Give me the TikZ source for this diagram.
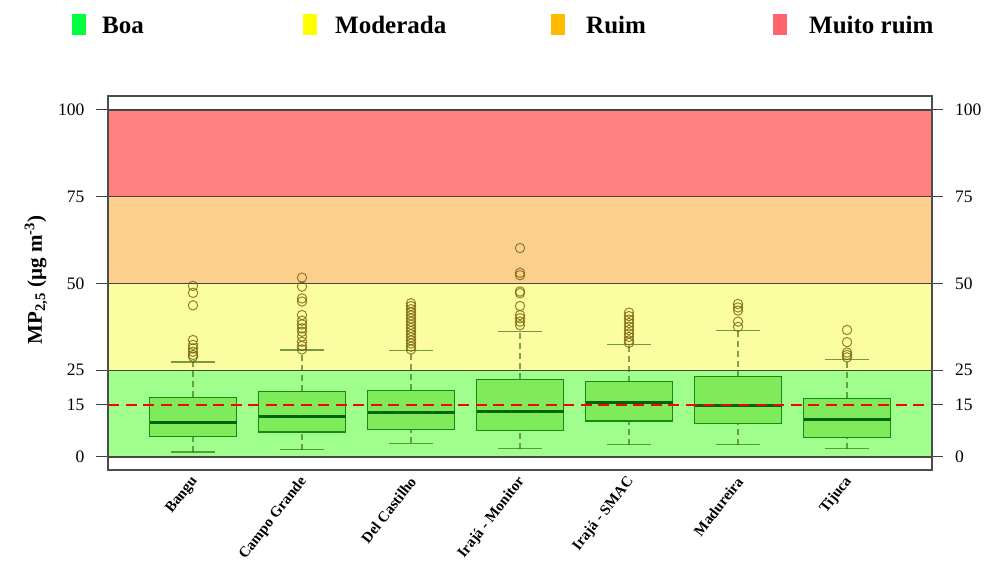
\documentclass[tikz,border=0pt]{standalone}
\usepackage{fontspec}
\setmainfont{Liberation Serif}
\definecolor{bandgreen}{RGB}{160,255,140}
\definecolor{bandyellow}{RGB}{250,253,160}
\definecolor{bandorange}{RGB}{253,207,140}
\definecolor{bandred}{RGB}{255,128,128}
\definecolor{bandgray}{RGB}{70,70,70}
\definecolor{boxfill}{RGB}{128,235,90}
\definecolor{boxedge}{RGB}{20,140,20}
\definecolor{meddark}{RGB}{0,100,0}
\definecolor{whiskc}{RGB}{50,100,20}
\definecolor{outc}{RGB}{120,100,10}
\definecolor{legGreen}{RGB}{0,255,60}
\definecolor{legYellow}{RGB}{255,255,0}
\definecolor{legOrange}{RGB}{255,187,0}
\definecolor{legRed}{RGB}{255,100,110}
\newcommand\myboxplot[8]{%
  \draw[whisk] (#1,#5) -- (#1,#6);
  \draw[whisk] (#1,#2) -- (#1,#3);
  \draw[capst] (#1-22,#6) -- (#1+22,#6);
  \draw[capst] (#1-22,#2) -- (#1+22,#2);
  \draw[boxst] (#1-43.5,#3) rectangle (#1+43.5,#5);
  \draw[med] (#1-43.5,#4) -- (#1+43.5,#4);
  \foreach \o in {#7} \draw[outl] (#1,\o) circle[radius=4.7pt];
  \coordinate (#8) at (#1+2,-6.3);
}
\begin{document}
\begin{tikzpicture}[x=1pt,y=1pt,
  bandln/.style={draw=bandgray, line width=1.1pt},
  boxst/.style={draw=boxedge, fill=boxfill, line width=1.2pt},
  med/.style={draw=meddark, line width=3pt},
  whisk/.style={draw=whiskc, dash pattern=on 6pt off 4pt, line width=1.3pt, opacity=0.6},
  capst/.style={draw=whiskc, line width=1.3pt, opacity=0.65},
  outl/.style={draw=outc, line width=1pt, opacity=0.8},
  tickln/.style={draw=black!75, line width=1pt},
  ticklab/.style={font=\fontsize{17.5}{20}\selectfont, inner sep=0pt},
  refline/.style={draw=red, line width=2.6pt, dash pattern=on 11pt off 6.5pt},
  legsq/.style={minimum width=14pt, minimum height=21pt, inner sep=0pt},
  legtxt/.style={font=\fontsize{25}{28}\selectfont\bfseries, inner sep=0pt, anchor=base west},
  xtxt/.style={font=\fontsize{15}{17}\selectfont\bfseries, inner sep=0pt, anchor=east, rotate=52}]
\useasboundingbox (0,0) rectangle (985,561);
% legend
\node[legsq, fill=legGreen] (sqBoa) at (79,536.5) {};
\node[legtxt] (tBoa) at (102,527.7) {Boa};
\node[legsq, fill=legYellow] (sqMod) at (310,536.5) {};
\node[legtxt] (tMod) at (335,527.7) {Moderada};
\node[legsq, fill=legOrange] (sqRuim) at (558,536.5) {};
\node[legtxt] (tRuim) at (586,527.7) {Ruim};
\node[legsq, fill=legRed] (sqMR) at (780,536.5) {};
\node[legtxt] (tMR) at (809,527.7) {Muito ruim};
% y label
\node[rotate=90, font=\fontsize{21}{24}\selectfont\bfseries] (ylab) at (36,281)
  {MP\textsubscript{2,5} (µg m\textsuperscript{-3})};
\begin{scope}[shift={(0,104)}, y=3.47pt]
  \fill[bandgreen] (108,0) rectangle (932,25);
  \fill[bandyellow] (108,25) rectangle (932,50);
  \fill[bandorange] (108,50) rectangle (932,75);
  \fill[bandred] (108,75) rectangle (932,100);
  \foreach \v in {0,25,50,75,100} \draw[bandln] (108,\v) -- (932,\v);
  % ticks
  \foreach \v in {0,15,25,50,75,100} {
    \draw[tickln] (96,\v) -- (108,\v);
    \draw[tickln] (932,\v) -- (943,\v);
    \node[ticklab, anchor=east] (l\v) at (84.5,\v) {\v};
    \node[ticklab, anchor=west] (r\v) at (955,\v) {\v};
  }
  % boxplots: cx, lowW, q1, med, q3, upW, outliers, label anchor
  \myboxplot{193}{1.4}{5.9}{9.8}{17.2}{27.4}{49.3,47.3,43.7,33.7,32.3,31.3,30.3,29.4,28.9}{p1}
  \myboxplot{302}{2.1}{7.2}{11.6}{18.9}{30.8}{51.7,49.1,45.7,44.8,40.9,39.3,38.2,37.1,36.1,34.7,33.2,32.0,31.0}{p2}
  \myboxplot{411}{3.9}{8.0}{12.8}{19.2}{30.6}{44.3,43.5,42.6,41.7,40.8,39.9,39.0,38.1,37.2,36.3,35.4,34.5,33.6,32.7,31.8,31.0}{p3}
  \myboxplot{520}{2.4}{7.6}{13.2}{22.4}{36.1}{60.2,53.1,52.4,47.7,47.2,43.5,40.9,40.0,39.0,38.0}{p4}
  \myboxplot{629}{3.5}{10.4}{15.8}{21.7}{32.5}{41.6,40.6,39.6,38.6,37.6,36.6,35.6,34.6,33.6,32.9}{p5}
  \myboxplot{738}{3.5}{9.7}{14.7}{23.1}{36.4}{44.1,43.1,42.2,39.0,37.5}{p6}
  \myboxplot{847}{2.4}{5.7}{10.9}{16.9}{28.0}{36.6,33.1,30.1,29.4,28.7}{p7}
  % reference line
  \coordinate (refL) at (108,15);
  \coordinate (refR) at (932,15);
  \draw[refline] (refL) -- (refR);
\end{scope}
% frame
\draw[draw=black!70, line width=1.2pt] (108,91) rectangle (932,465);
% x labels
\node[xtxt] (x1) at (p1) {Bangu};
\node[xtxt] (x2) at (p2) {Campo Grande};
\node[xtxt] (x3) at (p3) {Del Castilho};
\node[xtxt] (x4) at (p4) {Irajá - Monitor};
\node[xtxt] (x5) at (p5) {Irajá - SMAC};
\node[xtxt] (x6) at (p6) {Madureira};
\node[xtxt] (x7) at (p7) {Tijuca};
\end{tikzpicture}
\end{document}
